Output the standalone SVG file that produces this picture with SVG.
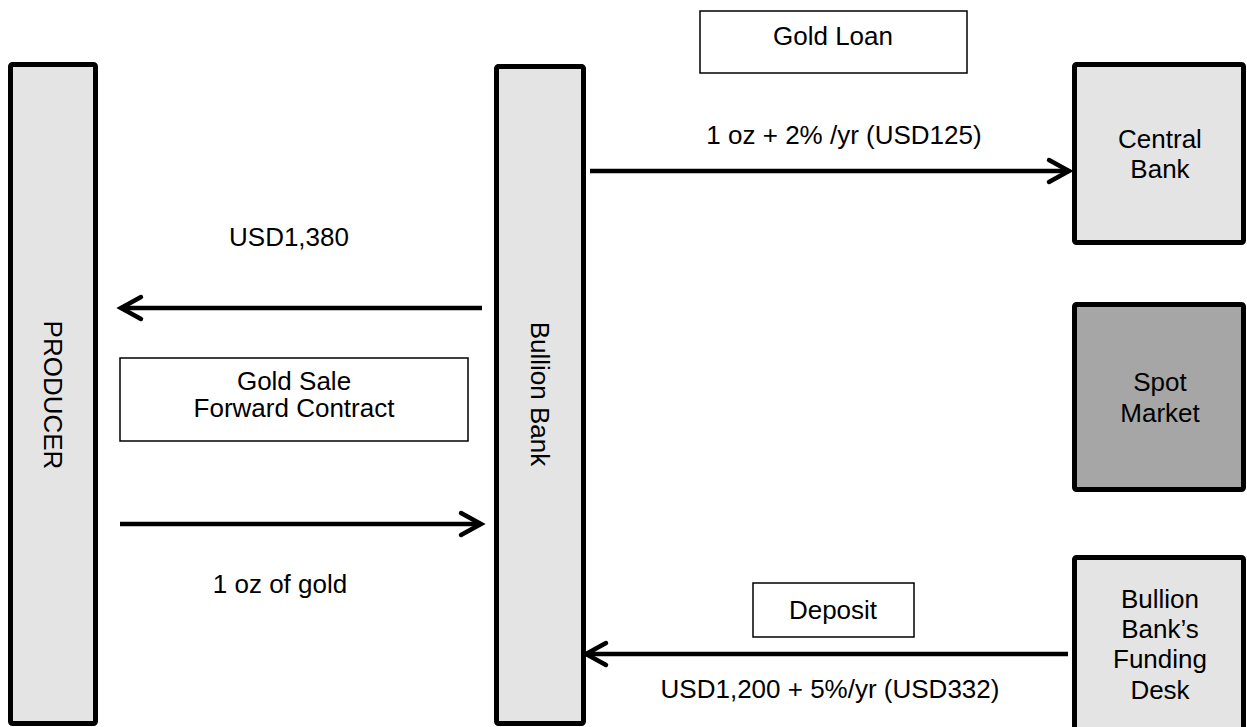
<svg xmlns="http://www.w3.org/2000/svg" width="1247" height="727" viewBox="0 0 1247 727">
  <style>
    .box { fill: #e4e4e4; stroke: #000; stroke-width: 5; }
    .dark { fill: #a6a6a6; }
    .label { fill: #fff; stroke: #000; stroke-width: 1.5; }
    .t { font-family: "Liberation Sans", Arial, sans-serif; font-size: 26px; fill: #000; text-anchor: middle; }
    .flow { stroke: #000; stroke-width: 4.5; fill: none; marker-end: url(#head); }
  </style>
  <defs>
    <marker id="head" markerUnits="userSpaceOnUse" markerWidth="30" markerHeight="30" refX="0" refY="0" viewBox="-25 -15 30 30" orient="auto" overflow="visible">
      <path d="M -20 -11 L 0 0 L -20 11" fill="none" stroke="#000" stroke-width="4.5" stroke-linecap="round" stroke-linejoin="miter"/>
    </marker>
  </defs>

  <rect width="1247" height="727" fill="#fff"/>

  <!-- Parties -->
  <g id="producer">
    <rect class="box" x="10.5" y="64.5" width="85" height="659" rx="2"/>
    <text class="t" transform="translate(44,395) rotate(90)">PRODUCER</text>
  </g>
  <g id="bullion-bank">
    <rect class="box" x="496.5" y="66.5" width="87" height="657" rx="2"/>
    <text class="t" transform="translate(531,394) rotate(90)">Bullion Bank</text>
  </g>
  <g id="central-bank">
    <rect class="box" x="1074.5" y="64.5" width="169" height="178" rx="2"/>
    <text class="t" x="1160" y="148">Central</text>
    <text class="t" x="1160" y="178">Bank</text>
  </g>
  <g id="spot-market">
    <rect class="box dark" x="1074.5" y="304.5" width="169" height="185" rx="2"/>
    <text class="t" x="1160" y="391">Spot</text>
    <text class="t" x="1160" y="422">Market</text>
  </g>
  <g id="funding-desk">
    <rect class="box" x="1074.5" y="557.5" width="169" height="180" rx="2"/>
    <text class="t" x="1160" y="608">Bullion</text>
    <text class="t" x="1160" y="638">Bank’s</text>
    <text class="t" x="1160" y="668">Funding</text>
    <text class="t" x="1160" y="699">Desk</text>
  </g>

  <!-- Transaction labels -->
  <g id="gold-loan">
    <rect class="label" x="700" y="11" width="267" height="62"/>
    <text class="t" x="833" y="45">Gold Loan</text>
  </g>
  <g id="gold-sale">
    <rect class="label" x="120" y="358" width="348" height="83"/>
    <text class="t" x="294" y="390">Gold Sale</text>
    <text class="t" x="294" y="417">Forward Contract</text>
  </g>
  <g id="deposit">
    <rect class="label" x="753" y="583" width="161" height="54"/>
    <text class="t" x="833" y="619">Deposit</text>
  </g>

  <!-- Flows -->
  <g id="connectors">
    <line class="flow" x1="590" y1="171" x2="1069" y2="171"/>
    <line class="flow" x1="482" y1="308" x2="121" y2="308"/>
    <line class="flow" x1="120" y1="524" x2="481" y2="524"/>
    <line class="flow" x1="1068" y1="654" x2="586" y2="654"/>
  </g>

  <!-- Flow amounts -->
  <g id="amounts">
    <text class="t" x="844" y="144">1 oz + 2% /yr (USD125)</text>
    <text class="t" x="289" y="246">USD1,380</text>
    <text class="t" x="280" y="593">1 oz of gold</text>
    <text class="t" x="830" y="698">USD1,200 + 5%/yr (USD332)</text>
  </g>
</svg>
